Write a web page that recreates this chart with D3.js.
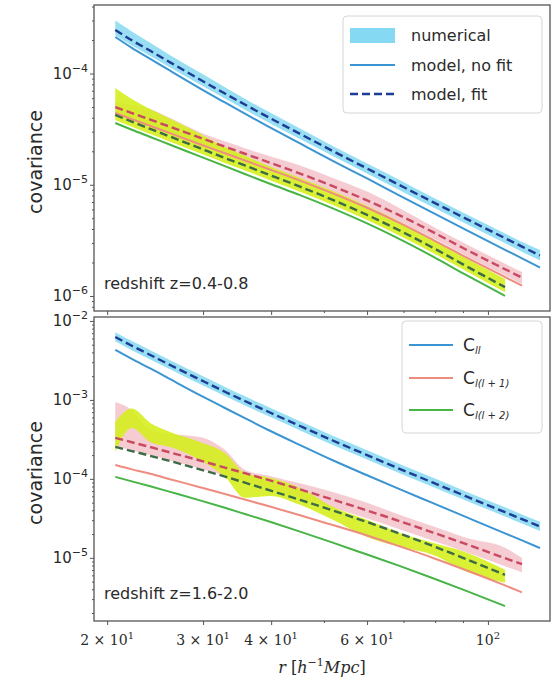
<!DOCTYPE html>
<html>
<head>
<meta charset="utf-8">
<script src="https://cdn.jsdelivr.net/npm/d3@7"></script>
<style>
  html, body { margin: 0; padding: 0; background: #ffffff; }
  svg { display: block; }
</style>
</head>
<body>
<svg id="chart" width="553" height="681"></svg>
<script>
// ---------------- DATA ----------------
const r = [20.7, 22.2, 24.0, 26.1, 29.6, 32.9, 35.8, 39.8, 45.2, 51.9, 60.0, 69.0, 79.3, 91.5, 107.5, 115.5, 124.6];

// Top panel: redshift z=0.4-0.8
const topBlueFit   = [2.46e-4, 1.99e-4, 1.60e-4, 1.26e-4, 8.83e-5, 6.61e-5, 5.26e-5, 3.98e-5, 2.87e-5, 2.01e-5, 1.40e-5, 9.87e-6, 6.98e-6, 4.91e-6, 3.31e-6, 2.78e-6, 2.31e-6];
const topBlueNoFit = [2.13e-4, 1.70e-4, 1.355e-4, 1.06e-4, 7.37e-5, 5.49e-5, 4.35e-5, 3.28e-5, 2.35e-5, 1.64e-5, 1.14e-5, 7.96e-6, 5.58e-6, 3.89e-6, 2.60e-6, 2.18e-6, 1.80e-6];
const topBlueNumHi = [3.00e-4, 2.39e-4, 1.89e-4, 1.46e-4, 1.02e-4, 7.54e-5, 5.94e-5, 4.46e-5, 3.21e-5, 2.23e-5, 1.55e-5, 1.10e-5, 7.68e-6, 5.40e-6, 3.64e-6, 3.06e-6, 2.59e-6];
const topBlueNumLo = [2.21e-4, 1.79e-4, 1.44e-4, 1.13e-4, 7.95e-5, 5.95e-5, 4.73e-5, 3.58e-5, 2.58e-5, 1.81e-5, 1.26e-5, 8.88e-6, 6.28e-6, 4.42e-6, 2.98e-6, 2.50e-6, 2.08e-6];

const topRedFit    = [5.00e-5, 4.41e-5, 3.85e-5, 3.32e-5, 2.65e-5, 2.20e-5, 1.90e-5, 1.58e-5, 1.26e-5, 9.72e-6, 7.23e-6, 5.28e-6, 3.75e-6, 2.59e-6, 1.74e-6, 1.46e-6];
const topRedNoFit  = [4.42e-5, 3.89e-5, 3.38e-5, 2.91e-5, 2.31e-5, 1.92e-5, 1.65e-5, 1.37e-5, 1.09e-5, 8.37e-6, 6.21e-6, 4.52e-6, 3.20e-6, 2.21e-6, 1.48e-6, 1.24e-6];
const topRedNumHi  = [5.50e-5, 5.20e-5, 4.81e-5, 3.98e-5, 2.97e-5, 2.46e-5, 2.13e-5, 1.80e-5, 1.49e-5, 1.15e-5, 8.68e-6, 6.12e-6, 4.20e-6, 2.90e-6, 1.95e-6, 1.64e-6];
const topRedNumLo  = [4.40e-5, 3.88e-5, 3.39e-5, 2.92e-5, 2.33e-5, 1.94e-5, 1.67e-5, 1.39e-5, 1.11e-5, 8.55e-6, 6.36e-6, 4.65e-6, 3.30e-6, 2.28e-6, 1.53e-6, 1.28e-6];

const topGreenFit   = [4.24e-5, 3.69e-5, 3.18e-5, 2.71e-5, 2.13e-5, 1.74e-5, 1.49e-5, 1.22e-5, 9.61e-6, 7.31e-6, 5.36e-6, 3.86e-6, 2.71e-6, 1.84e-6, 1.20e-6];
const topGreenNoFit = [3.59e-5, 3.12e-5, 2.69e-5, 2.29e-5, 1.80e-5, 1.47e-5, 1.25e-5, 1.02e-5, 8.06e-6, 6.13e-6, 4.49e-6, 3.23e-6, 2.26e-6, 1.53e-6, 1.00e-6];
const topGreenNumHi = [7.42e-5, 5.90e-5, 4.77e-5, 3.93e-5, 2.88e-5, 2.18e-5, 1.82e-5, 1.46e-5, 1.15e-5, 8.77e-6, 6.43e-6, 4.63e-6, 3.20e-6, 2.17e-6, 1.42e-6];
const topGreenNumLo = [3.82e-5, 3.32e-5, 2.86e-5, 2.44e-5, 1.92e-5, 1.57e-5, 1.34e-5, 1.10e-5, 8.65e-6, 6.58e-6, 4.82e-6, 3.47e-6, 2.44e-6, 1.66e-6, 1.08e-6];

// Bottom panel: redshift z=1.6-2.0
const botBlueFit   = [6.27e-3, 4.85e-3, 3.71e-3, 2.77e-3, 1.81e-3, 1.27e-3, 9.68e-4, 6.93e-4, 4.67e-4, 3.06e-4, 2.00e-4, 1.33e-4, 8.95e-5, 5.95e-5, 3.79e-5, 3.09e-5, 2.49e-5];
const botBlueNoFit = [4.30e-3, 3.30e-3, 2.50e-3, 1.83e-3, 1.15e-3, 7.90e-4, 5.87e-4, 4.07e-4, 2.68e-4, 1.72e-4, 1.11e-4, 7.36e-5, 4.92e-5, 3.25e-5, 2.04e-5, 1.66e-5, 1.33e-5];
const botBlueNumHi = [7.21e-3, 5.58e-3, 4.27e-3, 3.19e-3, 2.08e-3, 1.46e-3, 1.11e-3, 7.97e-4, 5.37e-4, 3.52e-4, 2.30e-4, 1.53e-4, 1.03e-4, 6.84e-5, 4.36e-5, 3.55e-5, 2.86e-5];
const botBlueNumLo = [5.52e-3, 4.27e-3, 3.26e-3, 2.44e-3, 1.59e-3, 1.12e-3, 8.52e-4, 6.10e-4, 4.11e-4, 2.69e-4, 1.76e-4, 1.17e-4, 7.88e-5, 5.24e-5, 3.34e-5, 2.72e-5, 2.19e-5];

const botRedFit    = [3.30e-4, 2.91e-4, 2.53e-4, 2.16e-4, 1.71e-4, 1.39e-4, 1.18e-4, 9.57e-5, 7.36e-5, 5.47e-5, 3.98e-5, 2.90e-5, 2.09e-5, 1.48e-5, 9.91e-6, 8.30e-6];
const botRedNoFit  = [1.50e-4, 1.32e-4, 1.16e-4, 9.91e-5, 7.85e-5, 6.44e-5, 5.47e-5, 4.46e-5, 3.46e-5, 2.60e-5, 1.92e-5, 1.39e-5, 9.97e-6, 6.91e-6, 4.47e-6, 3.65e-6];
const botRedNumHi  = [9.43e-4, 7.47e-4, 4.17e-4, 3.71e-4, 3.40e-4, 2.33e-4, 1.30e-4, 1.09e-4, 8.80e-5, 6.84e-5, 4.98e-5, 3.48e-5, 2.51e-5, 1.78e-5, 1.34e-5, 9.96e-6];
const botRedNumLo  = [2.61e-4, 2.30e-4, 2.00e-4, 1.71e-4, 1.35e-4, 1.10e-4, 9.32e-5, 7.56e-5, 5.81e-5, 4.32e-5, 3.14e-5, 2.29e-5, 1.65e-5, 1.17e-5, 7.83e-6, 6.56e-6];

const botGreenFit   = [2.54e-4, 2.25e-4, 1.96e-4, 1.68e-4, 1.32e-4, 1.07e-4, 8.95e-5, 7.15e-5, 5.42e-5, 3.97e-5, 2.84e-5, 2.02e-5, 1.41e-5, 9.54e-6, 6.09e-6];
const botGreenNoFit = [1.06e-4, 9.30e-5, 8.06e-5, 6.84e-5, 5.34e-5, 4.30e-5, 3.59e-5, 2.86e-5, 2.15e-5, 1.56e-5, 1.10e-5, 7.85e-6, 5.52e-6, 3.79e-6, 2.45e-6];
const botGreenNumHi = [5.27e-4, 7.76e-4, 5.11e-4, 3.93e-4, 2.94e-4, 2.13e-4, 1.19e-4, 1.03e-4, 7.69e-5, 4.42e-5, 3.03e-5, 2.07e-5, 1.55e-5, 1.16e-5, 7.05e-6];
const botGreenNumLo = [2.20e-4, 4.42e-4, 2.94e-4, 2.54e-4, 1.74e-4, 1.06e-4, 5.75e-5, 6.09e-5, 4.69e-5, 3.03e-5, 1.84e-5, 1.38e-5, 1.09e-5, 6.65e-6, 4.83e-6];

// Ticks
const xMajorTicks = [20, 30, 40, 60, 100];
const xTickMant   = ["2 \u00d7 10", "3 \u00d7 10", "4 \u00d7 10", "6 \u00d7 10", "10"];
const xTickExp    = ["1", "1", "1", "1", "2"];
const xMinorTicks = [50, 70, 80, 90];
const topYTicks = [1e-4, 1e-5, 1e-6];
const topYExp   = ["\u22124", "\u22125", "\u22126"];
const botYTicks = [1e-2, 1e-3, 1e-4, 1e-5];
const botYExp   = ["\u22122", "\u22123", "\u22124", "\u22125"];

const panelTitles = ["redshift z=0.4-0.8", "redshift z=1.6-2.0"];
const legend1 = ["numerical", "model, no fit", "model, fit"];
const legend2Sub = ["ll", "l(l + 1)", "l(l + 2)"];

// ---------------- STYLE ----------------
const C = {
  blueLine: "#3b95d2", blueDash: "#1d3c95", blueBand: "#86d9f2",
  redLine: "#ef8c80", redDash: "#c94a60", redBand: "#f3c3ca",
  greenLine: "#47b446", greenDash: "#3c6b45", greenBand: "#d5ee1e",
  frame: "#555", text: "#2a2a2a"
};

const svg = d3.select("#chart");
const L = 94, R = 550;
const x = d3.scaleLog().domain([18.92, 130]).range([L, R]);

const panels = [
  { top: 5, bottom: 311, ydom: [Math.pow(10, -6.135), Math.pow(10, -3.384)], yt: topYTicks, ye: topYExp,
    blue: [topBlueFit, topBlueNoFit, topBlueNumHi, topBlueNumLo],
    red: [topRedFit, topRedNoFit, topRedNumHi, topRedNumLo],
    green: [topGreenFit, topGreenNoFit, topGreenNumHi, topGreenNumLo], title: panelTitles[0], xlabels: false },
  { top: 317, bottom: 621, ydom: [Math.pow(10, -5.80), Math.pow(10, -1.95)], yt: botYTicks, ye: botYExp,
    blue: [botBlueFit, botBlueNoFit, botBlueNumHi, botBlueNumLo],
    red: [botRedFit, botRedNoFit, botRedNumHi, botRedNumLo],
    green: [botGreenFit, botGreenNoFit, botGreenNumHi, botGreenNumLo], title: panelTitles[1], xlabels: true }
];

panels.forEach((p, pi) => {
  const y = d3.scaleLog().domain(p.ydom).range([p.bottom, p.top]);
  const g = svg.append("g");
  const clipId = "clip" + pi;
  svg.append("clipPath").attr("id", clipId).append("rect")
    .attr("x", L).attr("y", p.top).attr("width", R - L).attr("height", p.bottom - p.top);
  const plot = g.append("g").attr("clip-path", `url(#${clipId})`);

  const line = d3.line().curve(d3.curveMonotoneX).x((d, i) => x(r[i])).y(d => y(d));
  const area = (hi, lo) => d3.area().curve(d3.curveMonotoneX)
    .x((d, i) => x(r[i])).y0((d, i) => y(lo[i])).y1((d, i) => y(hi[i]))(hi);

  const sets = [["blue", p.blue], ["red", p.red], ["green", p.green]];
  sets.forEach(([c, s]) => {
    plot.append("path").attr("d", area(s[2], s[3]))
      .attr("fill", C[c + "Band"]).attr("fill-opacity", c === "green" ? 0.9 : 0.85);
  });
  sets.forEach(([c, s]) => {
    plot.append("path").attr("d", line(s[1])).attr("fill", "none")
      .attr("stroke", C[c + "Line"]).attr("stroke-width", 2);
  });
  sets.forEach(([c, s]) => {
    plot.append("path").attr("d", line(s[0])).attr("fill", "none")
      .attr("stroke", C[c + "Dash"]).attr("stroke-width", 2.4)
      .attr("stroke-dasharray", "8,4");
  });

  g.append("rect").attr("x", L).attr("y", p.top).attr("width", R - L).attr("height", p.bottom - p.top)
    .attr("fill", "none").attr("stroke", C.frame).attr("stroke-width", 1.3);

  const minors = [];
  const lo = Math.floor(Math.log10(p.ydom[0])), hi = Math.ceil(Math.log10(p.ydom[1]));
  for (let e = lo; e <= hi; e++) for (let m = 2; m <= 9; m++) {
    const v = m * Math.pow(10, e);
    if (v >= p.ydom[0] && v <= p.ydom[1]) minors.push(v);
  }
  const yMinor = g.append("g").attr("transform", `translate(${L},0)`)
    .call(d3.axisLeft(y).tickValues(minors).tickSize(2).tickFormat(""));
  const yMajor = g.append("g").attr("transform", `translate(${L},0)`)
    .call(d3.axisLeft(y).tickValues(p.yt).tickSize(4).tickFormat(""));
  [yMinor, yMajor].forEach(a => {
    a.select(".domain").remove();
    a.selectAll("line").attr("stroke", C.frame).attr("stroke-width", 1);
  });
  p.yt.forEach((v, i) => {
    const t = g.append("text").attr("x", L - 6).attr("y", y(v) + 5)
      .attr("text-anchor", "end").attr("font-family", "DejaVu Sans").attr("font-size", 15)
      .attr("fill", C.text);
    t.append("tspan").text("10");
    t.append("tspan").attr("dy", -7).attr("font-size", 11).text(p.ye[i]);
  });

  const xMinorAxis = g.append("g").attr("transform", `translate(0,${p.bottom})`)
    .call(d3.axisBottom(x).tickValues(xMinorTicks).tickSize(2).tickFormat(""));
  const xMajorAxis = g.append("g").attr("transform", `translate(0,${p.bottom})`)
    .call(d3.axisBottom(x).tickValues(xMajorTicks).tickSize(4).tickFormat(""));
  [xMinorAxis, xMajorAxis].forEach(a => {
    a.select(".domain").remove();
    a.selectAll("line").attr("stroke", C.frame).attr("stroke-width", 1);
  });
  if (p.xlabels) {
    xMajorTicks.forEach((v, i) => {
      const t = g.append("text").attr("x", x(v)).attr("y", p.bottom + 24)
        .attr("text-anchor", "middle").attr("font-family", "DejaVu Serif").attr("font-size", 14)
        .attr("fill", C.text);
      t.append("tspan").text(xTickMant[i]);
      t.append("tspan").attr("dy", -6).attr("font-size", 10).text(xTickExp[i]);
    });
    const xl = g.append("text").attr("x", (L + R) / 2).attr("y", p.bottom + 52)
      .attr("text-anchor", "middle").attr("font-family", "DejaVu Serif").attr("font-size", 16)
      .attr("fill", C.text);
    xl.append("tspan").attr("font-style", "italic").text("r");
    xl.append("tspan").text(" [");
    xl.append("tspan").attr("font-style", "italic").text("h");
    xl.append("tspan").attr("dy", -7).attr("font-size", 11).text("\u22121");
    xl.append("tspan").attr("dy", 7).attr("font-style", "italic").text("Mpc");
    xl.append("tspan").text("]");
  }

  const cy = (p.top + p.bottom) / 2 + 4;
  g.append("text").attr("transform", `translate(42,${cy}) rotate(-90)`)
    .attr("text-anchor", "middle").attr("font-family", "DejaVu Sans").attr("font-size", 19)
    .attr("fill", C.text).text("covariance");

  g.append("text").attr("x", 104).attr("y", p.bottom - 22)
    .attr("font-family", "DejaVu Sans").attr("font-size", 16).attr("fill", C.text).text(p.title);

  if (pi === 0) {
    const lg = g.append("g");
    lg.append("rect").attr("x", 343).attr("y", 16).attr("width", 199).attr("height", 97)
      .attr("rx", 4).attr("fill", "#fff").attr("fill-opacity", 0.85).attr("stroke", "#d6d6d6");
    lg.append("rect").attr("x", 350).attr("y", 28).attr("width", 45).attr("height", 15).attr("fill", C.blueBand);
    lg.append("line").attr("x1", 350).attr("x2", 395).attr("y1", 65).attr("y2", 65)
      .attr("stroke", C.blueLine).attr("stroke-width", 2);
    lg.append("line").attr("x1", 350).attr("x2", 395).attr("y1", 94).attr("y2", 94)
      .attr("stroke", C.blueDash).attr("stroke-width", 2.4).attr("stroke-dasharray", "8,4");
    [41, 71, 100].forEach((yy, i) => {
      lg.append("text").attr("x", 411).attr("y", yy).attr("font-family", "DejaVu Sans")
        .attr("font-size", 16).attr("fill", C.text).text(legend1[i]);
    });
  } else {
    const lg = g.append("g");
    lg.append("rect").attr("x", 402).attr("y", 321).attr("width", 140).attr("height", 112)
      .attr("rx", 4).attr("fill", "#fff").attr("fill-opacity", 0.85).attr("stroke", "#d6d6d6");
    const cols = [C.blueLine, C.redLine, C.greenLine];
    [345, 378, 410].forEach((yy, i) => {
      lg.append("line").attr("x1", 409).attr("x2", 453).attr("y1", yy).attr("y2", yy)
        .attr("stroke", cols[i]).attr("stroke-width", 2);
      const t = lg.append("text").attr("x", 463).attr("y", yy + 6).attr("font-family", "DejaVu Sans")
        .attr("font-size", 17).attr("fill", C.text);
      t.append("tspan").text("C");
      t.append("tspan").attr("dy", 3).attr("font-size", 10).attr("font-style", "italic").text(legend2Sub[i]);
    });
  }
});
</script>
</body>
</html>
